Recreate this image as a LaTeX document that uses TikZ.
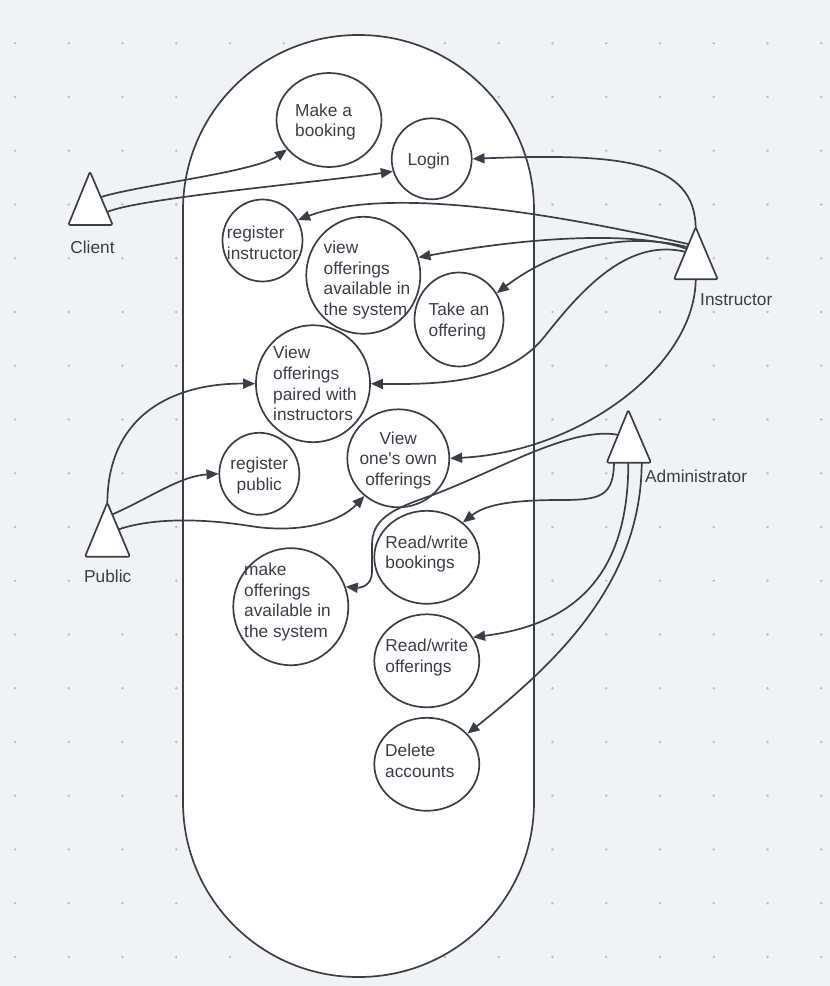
\documentclass[tikz,border=0pt]{standalone}
\usepackage{fontspec}
\setmainfont{Liberation Sans}
\usetikzlibrary{shapes.geometric,arrows.meta}
\definecolor{ink}{HTML}{3A3F47}
\definecolor{bgc}{HTML}{F1F2F4}
\definecolor{dotc}{HTML}{BABDC2}
\begin{document}
\begin{tikzpicture}[x=1bp,y=-1bp,
  txt/.style={font=\fontsize{17.3bp}{20.7bp}\selectfont, text=ink, inner sep=0pt},
  lbl/.style={txt, align=left, yshift=-2bp},
  lblc/.style={txt, align=center, yshift=-2bp},
  uc/.style={ellipse, draw=ink, line width=1.7bp, inner sep=0pt},
  conn/.style={draw=ink, line width=1.7bp, -{Triangle[length=12bp,width=10bp]}},
  actor/.style={draw=ink, line width=1.7bp, fill=white, rounded corners=2bp, line join=round}]
\useasboundingbox (0,0) rectangle (830,986);
\fill[bgc] (0,0) rectangle (830,986);
\foreach \i in {0,...,15}
  \foreach \j in {0,...,17}
    \fill[dotc] (15+53.75*\i, 43.3+53.75*\j) circle (1.4bp);
% system boundary
\draw[ink, line width=1.7bp, fill=white, rounded corners=175bp] (183,35) rectangle (534,977);

% use cases
\node[uc, minimum width=105bp, minimum height=94bp, label={[lbl, xshift=-3.5bp]center:{Make a\\booking}}] (mb) at (329,120) {};
\node[uc, minimum width=80bp, minimum height=81bp, label={[lbl, xshift=-3bp]center:{Login}}] (login) at (431.7,158.8) {};
\node[uc, minimum width=80bp, minimum height=82bp, label={[lbl]center:{register\\instructor}}] (ri) at (262.5,240.5) {};
\node[uc, minimum width=114bp, minimum height=117bp, label={[lbl, xshift=3.7bp, yshift=-2.7bp]center:{view\\offerings\\available in\\the system}}] (voa) at (363.3,275.3) {};
\node[uc, minimum width=89bp, minimum height=94bp, label={[lbl]center:{Take an\\offering}}] (tao) at (459,319.5) {};
\node[uc, minimum width=114bp, minimum height=117bp, label={[lbl, xshift=2bp, yshift=2bp]center:{View\\offerings\\paired with\\instructors}}] (vop) at (313,383.7) {};
\node[uc, minimum width=80bp, minimum height=82bp, label={[lblc]center:{register\\public}}] (rp) at (259.3,473.8) {};
\node[uc, minimum width=102bp, minimum height=98bp, label={[lblc]center:{View\\one\textquotesingle s own\\offerings}}] (voo) at (398.3,458.3) {};
\node[uc, minimum width=115bp, minimum height=117bp, label={[lbl, xshift=-3.3bp, yshift=6.7bp]center:{make\\offerings\\available in\\the system}}] (moa) at (290.8,606.7) {};
\node[uc, minimum width=105bp, minimum height=93bp, label={[lbl, yshift=5.3bp]center:{Read/write\\bookings}}] (rwb) at (426.8,557.3) {};
\node[uc, minimum width=105bp, minimum height=93bp, label={[lbl, yshift=5.5bp]center:{Read/write\\offerings}}] (rwo) at (426.8,660.8) {};
\node[uc, minimum width=105bp, minimum height=93bp, label={[lbl, xshift=-7bp, yshift=5.6bp]center:{Delete\\accounts}}] (da) at (426.8,764.3) {};

% connector start points on the actors
\coordinate (cl1) at (101,197);
\coordinate (cl2) at (107,212);
\coordinate (in0) at (695.7,229);
\coordinate (in1) at (688,244);
\coordinate (in2) at (687,249);
\coordinate (in3) at (687,247);
\coordinate (in4) at (686,252);
\coordinate (in5) at (695.7,277);
\coordinate (ad1) at (619,435);
\coordinate (ad2) at (614,461);
\coordinate (ad3) at (628.3,461);
\coordinate (ad4) at (641.7,461);
\coordinate (pu1) at (107.3,505);
\coordinate (pu2) at (111,515);
\coordinate (pu3) at (117,530);

% connectors
\draw[conn] (cl1) .. controls (140,185) and (255,172) .. (mb.215);
\draw[conn] (cl2) .. controls (140,198) and (320,182) .. (login.198);
\draw[conn] (in0) .. controls (695.7,160) and (620,153) .. (login.0);
\draw[conn] (in1) .. controls (560,215) and (390,185) .. (ri.30);
\draw[conn] (in2) .. controls (640,232) and (540,235) .. (voa.18);
\draw[conn] (in3) .. controls (630,232) and (560,245) .. (tao.35);
\draw[conn] (in4) .. controls (630,238) and (585,285) .. (545,336) .. controls (510,380) and (450,385) .. (vop.0);
\draw[conn] (in5) .. controls (697,365) and (580,452) .. (voo.0);
\draw[conn] (ad1) .. controls (570,425) and (490,475) .. (427,497) .. controls (390,510) and (372,520) .. (372,545) -- (372,572) .. controls (372,586) and (360,588) .. (moa.20);
\draw[conn] (ad2) .. controls (614,497) and (600,500) .. (560,500) .. controls (510,500) and (485,505) .. (rwb.44);
\draw[conn] (ad3) .. controls (629,580) and (570,625) .. (rwo.27);
\draw[conn] (ad4) .. controls (642,580) and (560,660) .. (da.37);
\draw[conn] (pu1) .. controls (107,410) and (180,383) .. (vop.180);
\draw[conn] (pu2) .. controls (150,498) and (180,476) .. (rp.180);
\draw[conn] (pu3) .. controls (150,518) and (200,518) .. (250,526) .. controls (300,534) and (340,522) .. (voo.228);

% actors
\draw[actor] (90,171.7) -- (112.7,225) -- (68.3,225) -- cycle;
\draw[actor] (695.7,227.3) -- (717.7,279.3) -- (674,279.3) -- cycle;
\draw[actor] (628.3,410) -- (651,462.7) -- (606.7,462.7) -- cycle;
\draw[actor] (107.3,502.7) -- (130,556.7) -- (85,556.7) -- cycle;
\node[txt] (client) at (92.5,247.3) {Client};
\node[txt, anchor=west] (instructor) at (700,299.3) {Instructor};
\node[txt, anchor=west] (admin) at (645,476) {Administrator};
\node[txt] (public) at (107.7,576) {Public};
\end{tikzpicture}
\end{document}
